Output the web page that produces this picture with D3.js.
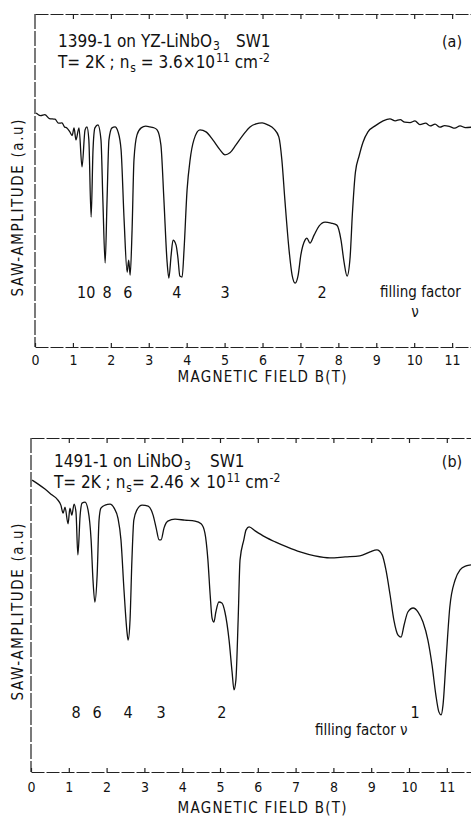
<!DOCTYPE html>
<html>
<head>
<meta charset="utf-8">
<script src="https://cdn.jsdelivr.net/npm/d3@7"></script>
<style>
  body { margin: 0; background: #fff; }
  svg text {
    font-family: "Liberation Sans Narrow", "DejaVu Sans Condensed", "Arial Narrow", sans-serif;
    fill: #111;
  }
</style>
</head>
<body>
<svg width="471" height="818"></svg>
<script>
// Panel (a): sample 1399-1, field in tesla and SAW amplitude in arbitrary units
const fieldA = [0.03, 0.15, 0.26, 0.38, 0.53, 0.62, 0.71, 0.78, 0.84, 0.92, 0.98, 1.03, 1.08, 1.16, 1.24, 1.32,
  1.37, 1.42, 1.48, 1.53, 1.58, 1.66, 1.74, 1.79, 1.85, 1.90, 1.95, 2.03, 2.11, 2.19, 2.27, 2.35,
  2.43, 2.47, 2.51, 2.56, 2.61, 2.69, 2.80, 2.92, 3.03, 3.12, 3.22, 3.32, 3.40, 3.48, 3.53, 3.59,
  3.64, 3.72, 3.77, 3.82, 3.88, 3.93, 4.01, 4.09, 4.19, 4.35, 4.51, 4.69, 4.88, 5.01, 5.14, 5.30,
  5.49, 5.67, 5.83, 5.99, 6.14, 6.30, 6.43, 6.51, 6.59, 6.70, 6.78, 6.86, 6.94, 7.01, 7.12, 7.17,
  7.25, 7.36, 7.49, 7.65, 7.81, 7.96, 8.07, 8.15, 8.23, 8.31, 8.37, 8.45, 8.55, 8.65, 8.78, 8.97,
  9.18, 9.36, 9.50, 9.63, 9.75, 9.89, 10.02, 10.15, 10.30, 10.42, 10.55, 10.68, 10.80, 10.94, 11.07,
  11.21, 11.35, 11.50];
const ampA = [70.3, 69.5, 69.8, 68.6, 68.4, 67.2, 67.3, 66.1, 65.8, 64.6, 63.5, 65.8, 62.2, 65.8, 54.1, 65.2,
  66.1, 62.2, 39.0, 59.2, 65.8, 66.7, 62.2, 44.1, 25.2, 44.1, 62.2, 65.8, 66.1, 64.6, 59.2, 38.1,
  22.5, 26.1, 21.6, 35.1, 56.2, 63.7, 65.8, 66.3, 66.1, 65.9, 65.2, 60.7, 44.1, 26.1, 20.7, 27.6,
  32.1, 30.6, 26.7, 21.3, 21.0, 29.1, 47.1, 56.2, 62.2, 65.2, 64.6, 62.2, 59.2, 57.7, 58.3, 60.7,
  63.7, 66.1, 67.0, 67.3, 66.7, 65.5, 63.1, 56.2, 44.1, 29.1, 21.6, 19.2, 21.6, 27.6, 32.1, 32.7,
  31.2, 33.6, 36.3, 37.5, 37.2, 36.6, 32.1, 25.5, 21.3, 27.0, 40.0, 52.5, 57.5, 61.5, 64.6, 66.4,
  67.9, 68.5, 67.9, 68.3, 67.5, 67.4, 67.9, 66.8, 67.2, 66.4, 66.9, 66.0, 66.5, 66.2, 65.7,
  66.4, 65.9, 66.0];

// Panel (b): sample 1491-1
const fieldB = [0.03, 0.19, 0.37, 0.56, 0.69, 0.79, 0.85, 0.90, 0.98, 1.03, 1.08, 1.14, 1.19, 1.24, 1.30, 1.35,
  1.43, 1.51, 1.59, 1.64, 1.69, 1.75, 1.80, 1.85, 1.96, 2.09, 2.20, 2.30, 2.38, 2.46, 2.54, 2.57,
  2.62, 2.67, 2.72, 2.80, 2.94, 3.10, 3.23, 3.31, 3.39, 3.44, 3.52, 3.62, 3.81, 4.07, 4.34, 4.50,
  4.60, 4.68, 4.74, 4.79, 4.84, 4.89, 4.97, 5.05, 5.13, 5.24, 5.32, 5.37, 5.42, 5.48, 5.53, 5.63,
  5.69, 5.77, 5.93, 6.19, 6.46, 6.77, 7.12, 7.51, 7.91, 8.31, 8.70, 8.97, 9.15, 9.29, 9.39, 9.50,
  9.60, 9.71, 9.79, 9.87, 9.97, 10.11, 10.24, 10.37, 10.50, 10.61, 10.71, 10.79, 10.85, 10.90, 10.98,
  11.08, 11.22, 11.35, 11.51, 11.64];
const ampB = [87.4, 86.2, 84.7, 82.9, 81.7, 79.9, 77.5, 79.3, 74.3, 79.0, 76.9, 80.2, 77.8, 65.0, 76.9, 80.5,
  80.8, 78.4, 69.5, 57.5, 50.9, 59.0, 75.4, 79.0, 79.9, 80.2, 79.0, 76.0, 69.5, 54.5, 41.9, 39.5,
  45.5, 63.5, 75.4, 78.4, 79.9, 79.6, 76.9, 73.1, 69.5, 69.5, 73.1, 75.1, 75.7, 75.4, 75.1, 74.3,
  71.6, 63.5, 53.0, 46.1, 44.9, 47.9, 50.9, 50.6, 47.9, 39.5, 29.9, 24.6, 27.5, 45.5, 63.5, 69.5,
  72.5, 73.4, 72.2, 70.4, 68.9, 67.4, 65.9, 64.7, 64.1, 64.4, 64.7, 65.9, 66.5, 65.0, 60.5, 53.0,
  45.5, 41.0, 40.4, 44.0, 47.9, 49.1, 47.9, 44.9, 39.5, 32.0, 23.1, 18.0, 17.1, 20.1, 33.5,
  49.4, 57.5, 60.5, 61.7, 62.0];

// Axis ticks and filling-factor marks
const fieldTicks = [0, 1, 2, 3, 4, 5, 6, 7, 8, 9, 10, 11];
const nuLabelsA = ["10", "8", "6", "4", "3", "2"];
const nuFieldA = [1.35, 1.9, 2.45, 3.74, 5.01, 7.57];
const nuLabelsB = ["8", "6", "4", "3", "2", "1"];
const nuFieldB = [1.19, 1.75, 2.57, 3.44, 5.05, 10.16];

document.addEventListener("DOMContentLoaded", function () {
  const svg = d3.select("svg");

  // one function draws a whole panel from its frame box and data
  const drawPanel = (p) => {
    const g = svg.append("g");

    const x = d3.scaleLinear().domain([0, 12]).range([p.left, p.left + 12 * p.step]);
    const y = d3.scaleLinear().domain([0, 100]).range([p.bottom, p.top]);

    // bottom axis: ticks point inward
    g.append("g")
      .attr("class", "x-axis")
      .attr("transform", `translate(0,${p.bottom})`)
      .call(d3.axisBottom(x).tickValues(fieldTicks).tickSizeInner(-4).tickSizeOuter(0).tickPadding(p.tickPad))
      .call((a) => a.selectAll("text").style("font-size", "14px").attr("fill", "#111"));

    // top axis, ticks only
    g.append("g")
      .attr("transform", `translate(0,${p.top})`)
      .call(d3.axisTop(x).tickValues(fieldTicks.slice(1)).tickSizeInner(-5).tickSizeOuter(0).tickFormat(""));

    g.selectAll(".domain, .tick line")
      .attr("stroke", "#222")
      .attr("stroke-width", 1.2);
    g.selectAll(".domain").attr("stroke-dasharray", "13,2");

    // left frame edge
    g.append("line")
      .attr("x1", p.left).attr("x2", p.left)
      .attr("y1", p.top).attr("y2", p.bottom)
      .attr("stroke", "#222")
      .attr("stroke-width", 1.2)
      .attr("stroke-dasharray", "15,2");

    // the SAW trace
    const line = d3.line()
      .x((d) => x(d[0]))
      .y((d) => y(d[1]))
      .curve(d3.curveMonotoneX);

    g.append("path")
      .datum(d3.zip(p.field, p.amp))
      .attr("fill", "none")
      .attr("stroke", "#111")
      .attr("stroke-width", 1.3)
      .attr("stroke-linejoin", "round")
      .attr("d", line);

    // filling factor numbers under the minima
    g.selectAll(".nu")
      .data(p.nuLabels)
      .join("text")
      .attr("class", "nu")
      .attr("x", (d, i) => x(p.nuField[i]))
      .attr("y", y(p.labelAmp))
      .attr("text-anchor", "middle")
      .style("font-size", "16px")
      .text((d) => d);

    // x-axis label
    g.append("text")
      .attr("x", 262)
      .attr("y", p.bottom + p.titleGap)
      .attr("text-anchor", "middle")
      .attr("textLength", 169)
      .style("font-size", "15px")
      .text("MAGNETIC FIELD B(T)");

    // y-axis label
    g.append("text")
      .attr("transform", `translate(23,${p.labelMid}) rotate(-90)`)
      .attr("text-anchor", "middle")
      .attr("textLength", 177)
      .style("font-size", "15px")
      .text("SAW-AMPLITUDE (a.u)");

    // sample description, two lines
    const t1 = g.append("text")
      .attr("x", p.left + 23)
      .attr("y", p.top + p.line1)
      .style("font-size", "17px");
    t1.append("tspan").text(p.sample + "LiNbO");
    t1.append("tspan").attr("dy", 3).attr("dx", 1).style("font-size", "12px").text("3");
    t1.append("tspan").attr("dy", -3).attr("x", p.swX).text("SW1");

    const t2 = g.append("text")
      .attr("x", p.left + 23)
      .attr("y", p.top + p.line1 + 21)
      .style("font-size", "17px");
    t2.append("tspan").text("T= 2K ; n");
    t2.append("tspan").attr("dy", 4).attr("dx", 1).style("font-size", "12px").text("s");
    t2.append("tspan").attr("dy", -4).text(p.density);
    t2.append("tspan").attr("dy", -6).attr("dx", 1).style("font-size", "12px").text("11");
    t2.append("tspan").attr("dy", 6).text(" cm");
    t2.append("tspan").attr("dy", -6).attr("dx", 1).style("font-size", "12px").text("-2");

    // panel letter
    g.append("text")
      .attr("x", 452)
      .attr("y", p.top + p.line1)
      .attr("text-anchor", "middle")
      .style("font-size", "16px")
      .text(p.tag);

    // "filling factor v" caption
    if (p.nuInline) {
      g.append("text")
        .attr("x", 315)
        .attr("y", y(p.captionAmp))
        .style("font-size", "15px")
        .text("filling factor  \u03bd");
    } else {
      g.append("text")
        .attr("x", 380)
        .attr("y", y(p.captionAmp))
        .style("font-size", "15px")
        .text("filling factor");
      g.append("text")
        .attr("x", 415)
        .attr("y", y(p.captionAmp) + 20)
        .attr("text-anchor", "middle")
        .style("font-size", "15px")
        .text("\u03bd");
    }
  };

  drawPanel({
    left: 35, top: 14, bottom: 347, step: 37.92,
    field: fieldA, amp: ampA,
    nuLabels: nuLabelsA, nuField: nuFieldA, labelAmp: 14.7, captionAmp: 15,
    labelMid: 208, line1: 33, swX: 236, tickPad: 8, titleGap: 35,
    sample: "1399-1 on YZ-", density: " = 3.6\u00d710", tag: "(a)", nuInline: false
  });

  drawPanel({
    left: 31, top: 438, bottom: 772, step: 37.8,
    field: fieldB, amp: ampB,
    nuLabels: nuLabelsB, nuField: nuFieldB, labelAmp: 16.2, captionAmp: 11,
    labelMid: 612, line1: 29, swX: 210, tickPad: 10, titleGap: 41,
    sample: "1491-1 on ", density: "= 2.46 \u00d7 10", tag: "(b)", nuInline: true
  });
});
</script>
</body>
</html>
